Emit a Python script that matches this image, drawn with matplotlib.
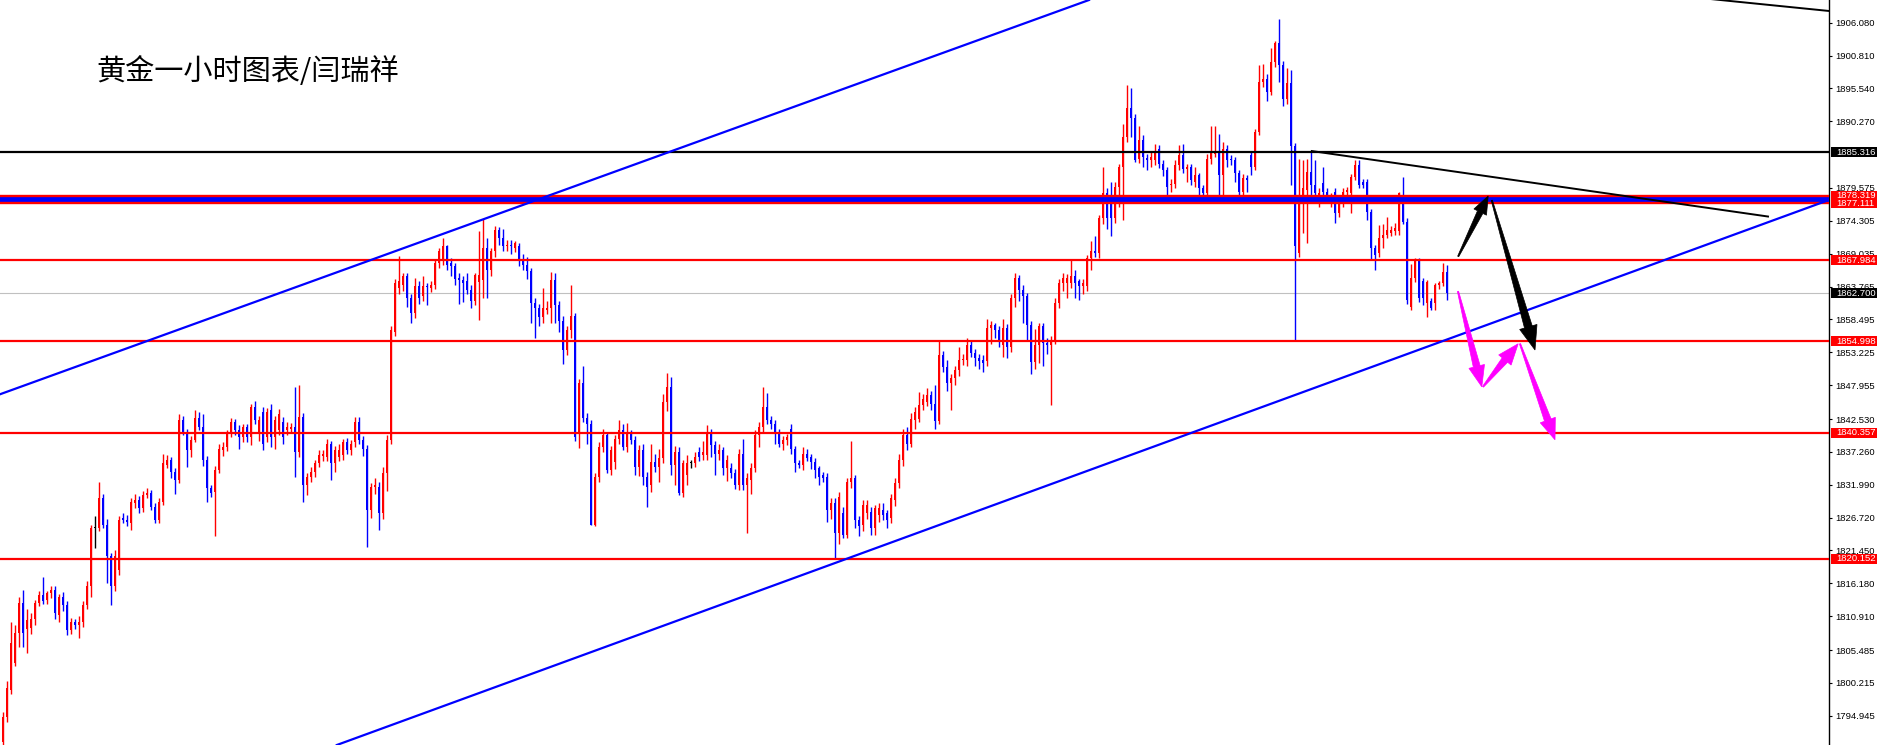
import matplotlib
matplotlib.use('Agg')
import matplotlib.pyplot as plt
from matplotlib.patches import Polygon, Rectangle
from matplotlib.transforms import IdentityTransform
import numpy as np

plt.rcParams['font.family'] = ['Noto Sans CJK SC', 'DejaVu Sans']

TITLE = "黄金一小时图表/闫瑞祥"

opens = [
    1790.8, 1794.8, 1799.1, 1803.4, 1808.2, 1813.0, 1808.8, 1809.0, 1810.5, 1813.0,
    1814.3, 1813.5, 1814.6, 1815.1, 1811.1, 1814.0, 1812.7, 1808.7, 1810.0, 1809.5,
    1810.0, 1812.7, 1815.7, 1825.0, 1825.0, 1829.8, 1825.5, 1820.5, 1815.7, 1818.3,
    1826.6, 1826.4, 1825.8, 1829.0, 1829.6, 1828.2, 1830.4, 1830.6, 1828.5, 1826.3,
    1829.3, 1835.2, 1836.0, 1834.1, 1832.8, 1842.4, 1840.5, 1837.6, 1839.2, 1842.7,
    1841.3, 1836.0, 1831.4, 1830.9, 1834.4, 1837.6, 1838.1, 1840.2, 1842.1, 1840.8,
    1839.7, 1841.3, 1839.7, 1844.5, 1840.2, 1843.7, 1839.7, 1844.0, 1839.7, 1840.8,
    1842.1, 1840.8, 1840.9, 1841.3, 1837.3, 1842.9, 1832.0, 1833.3, 1834.1, 1835.4,
    1836.6, 1836.5, 1838.6, 1835.4, 1836.5, 1836.8, 1838.9, 1837.6, 1838.9, 1842.1,
    1839.2, 1837.8, 1828.0, 1831.7, 1831.7, 1827.4, 1833.8, 1839.2, 1856.5, 1863.5,
    1864.0, 1865.5, 1861.9, 1859.5, 1863.8, 1862.2, 1863.9, 1863.5, 1864.0, 1867.5,
    1867.8, 1870.2, 1867.5, 1867.0, 1865.2, 1864.9, 1864.6, 1863.2, 1861.4, 1864.5,
    1864.8, 1869.9, 1866.4, 1869.4, 1872.8, 1871.5, 1870.2, 1870.5, 1869.9, 1870.2,
    1867.8, 1867.2, 1866.2, 1861.1, 1860.3, 1858.9, 1860.0, 1860.3, 1864.8, 1860.8,
    1858.2, 1853.6, 1856.8, 1859.0, 1840.2, 1848.3, 1842.7, 1841.8, 1825.6, 1833.3,
    1838.1, 1840.0, 1834.4, 1835.7, 1839.4, 1840.8, 1838.1, 1840.2, 1839.2, 1834.9,
    1837.6, 1833.3, 1831.9, 1835.7, 1834.9, 1836.2, 1845.3, 1847.7, 1835.1, 1837.3,
    1830.6, 1833.6, 1835.4, 1835.4, 1837.3, 1836.8, 1836.8, 1840.2, 1838.4, 1837.0,
    1837.6, 1834.6, 1834.6, 1833.8, 1831.9, 1837.0, 1831.9, 1832.8, 1834.6, 1840.0,
    1841.3, 1844.5, 1842.4, 1841.8, 1840.5, 1838.6, 1839.2, 1841.0, 1837.8, 1835.4,
    1835.1, 1837.0, 1836.5, 1835.7, 1834.6, 1833.6, 1833.3, 1828.0, 1829.0, 1824.2,
    1827.4, 1823.9, 1832.5, 1833.0, 1826.4, 1825.6, 1827.4, 1827.7, 1825.0, 1827.2,
    1828.0, 1827.4, 1826.6, 1829.5, 1832.2, 1836.0, 1840.0, 1838.5, 1842.4, 1842.6,
    1844.8, 1845.3, 1846.4, 1845.0, 1842.2, 1852.8, 1850.9, 1848.3, 1849.1, 1850.4,
    1852.0, 1852.0, 1854.4, 1853.1, 1852.3, 1852.0, 1851.8, 1857.1, 1857.6, 1856.8,
    1854.4, 1857.1, 1854.1, 1861.9, 1865.1, 1863.2, 1862.2, 1857.6, 1851.7, 1854.4,
    1857.4, 1854.7, 1854.4, 1855.2, 1861.1, 1864.3, 1864.3, 1864.4, 1865.5, 1864.6,
    1863.8, 1863.8, 1868.3, 1869.4, 1869.1, 1874.7, 1878.7, 1878.4, 1874.7, 1879.8,
    1883.0, 1887.8, 1892.4, 1890.8, 1884.3, 1887.3, 1884.4, 1884.1, 1884.1, 1885.9,
    1883.5, 1882.5, 1880.0, 1880.2, 1883.3, 1884.9, 1882.7, 1882.9, 1880.6, 1881.6,
    1879.5, 1878.7, 1884.3, 1885.1, 1885.4, 1881.7, 1885.9, 1884.2, 1884.1, 1881.9,
    1879.0, 1881.1, 1884.9, 1883.0, 1888.6, 1896.6, 1897.0, 1895.0, 1899.8, 1902.8,
    1899.3, 1893.9, 1896.4, 1886.3, 1869.1, 1877.7, 1879.3, 1882.2, 1880.1, 1877.1,
    1880.3, 1879.0, 1877.1, 1879.0, 1875.5, 1877.1, 1879.0, 1878.7, 1881.4, 1883.3,
    1880.6, 1880.6, 1875.8, 1869.9, 1869.1, 1871.5, 1872.0, 1872.3, 1872.6, 1872.6,
    1877.1, 1874.2, 1860.5, 1865.1, 1867.8, 1864.6, 1861.1, 1861.4, 1861.1, 1864.0,
    1864.3, 1866.1,
]

highs = [
    1795.6, 1800.5, 1810.0, 1809.5, 1814.0, 1815.1, 1812.0, 1811.5, 1813.5, 1815.0,
    1817.2, 1815.0, 1815.7, 1815.8, 1814.5, 1814.8, 1813.3, 1810.6, 1810.4, 1811.0,
    1813.4, 1816.5, 1825.6, 1827.0, 1832.5, 1830.5, 1826.5, 1821.0, 1821.5, 1827.0,
    1827.5, 1827.2, 1829.8, 1830.5, 1830.2, 1831.0, 1831.5, 1831.2, 1829.0, 1829.8,
    1837.0, 1836.8, 1836.5, 1834.6, 1843.4, 1843.0, 1841.0, 1839.8, 1844.0, 1843.6,
    1843.4, 1836.6, 1832.0, 1835.0, 1838.5, 1838.9, 1840.8, 1842.7, 1842.6, 1841.5,
    1841.8, 1841.8, 1845.0, 1845.5, 1843.0, 1844.5, 1844.3, 1845.0, 1843.0, 1844.2,
    1842.8, 1842.0, 1841.9, 1847.7, 1848.0, 1843.5, 1833.8, 1834.8, 1836.0, 1837.5,
    1837.6, 1839.4, 1839.0, 1838.2, 1838.5, 1839.4, 1839.5, 1839.2, 1842.8, 1842.9,
    1839.8, 1838.4, 1832.2, 1833.0, 1832.5, 1834.8, 1840.0, 1857.5, 1865.0, 1868.6,
    1866.0, 1866.0, 1862.5, 1865.2, 1864.6, 1865.5, 1864.3, 1864.6, 1868.0, 1870.0,
    1871.6, 1870.5, 1868.3, 1867.5, 1866.0, 1865.5, 1866.0, 1864.0, 1866.0, 1872.6,
    1874.6, 1871.5, 1870.0, 1873.5, 1873.3, 1873.0, 1871.2, 1871.3, 1871.0, 1870.8,
    1869.0, 1868.5, 1866.8, 1862.0, 1861.0, 1863.5, 1861.5, 1866.1, 1866.0, 1861.5,
    1859.0, 1857.5, 1864.0, 1859.5, 1849.0, 1851.0, 1843.5, 1842.3, 1833.8, 1838.8,
    1841.0, 1840.5, 1838.2, 1840.0, 1842.4, 1841.8, 1841.9, 1840.8, 1839.8, 1838.3,
    1838.5, 1834.0, 1838.6, 1837.0, 1837.8, 1846.5, 1849.9, 1849.2, 1838.2, 1838.0,
    1836.0, 1836.8, 1836.0, 1837.2, 1838.0, 1839.0, 1841.5, 1841.0, 1839.0, 1838.5,
    1838.0, 1836.8, 1835.5, 1834.5, 1837.8, 1839.4, 1833.8, 1835.4, 1840.8, 1842.0,
    1847.7, 1846.7, 1843.0, 1842.3, 1841.0, 1839.8, 1840.2, 1841.8, 1838.2, 1836.0,
    1838.0, 1837.8, 1837.0, 1836.2, 1835.0, 1834.0, 1833.8, 1829.8, 1829.8, 1830.8,
    1828.5, 1833.0, 1839.0, 1833.6, 1827.0, 1829.5, 1829.6, 1828.5, 1828.8, 1829.0,
    1829.0, 1828.0, 1830.5, 1833.0, 1837.0, 1841.0, 1841.2, 1843.5, 1844.5, 1846.9,
    1846.5, 1847.5, 1847.0, 1848.0, 1855.0, 1853.5, 1852.0, 1849.8, 1851.0, 1854.0,
    1853.0, 1855.5, 1855.0, 1853.8, 1853.0, 1852.8, 1858.5, 1858.3, 1858.0, 1857.5,
    1858.5, 1857.8, 1862.5, 1866.0, 1865.6, 1864.0, 1862.8, 1858.2, 1857.0, 1858.0,
    1858.0, 1855.5, 1855.8, 1862.0, 1865.0, 1866.0, 1865.8, 1868.0, 1866.5, 1865.0,
    1865.0, 1868.8, 1871.0, 1871.8, 1875.2, 1883.0, 1879.5, 1880.5, 1880.5, 1883.5,
    1889.9, 1896.1, 1895.6, 1891.5, 1889.5, 1888.0, 1885.0, 1885.5, 1886.6, 1886.4,
    1884.0, 1883.0, 1881.0, 1884.0, 1886.5, 1886.6, 1883.5, 1883.4, 1883.0, 1882.0,
    1880.0, 1885.0, 1889.5, 1889.5, 1888.3, 1887.0, 1886.4, 1884.8, 1884.6, 1882.4,
    1881.8, 1881.6, 1885.5, 1889.0, 1899.3, 1899.5, 1897.8, 1902.0, 1903.2, 1906.7,
    1900.0, 1898.8, 1898.5, 1886.8, 1884.3, 1884.0, 1884.3, 1885.4, 1884.1, 1879.5,
    1883.0, 1879.5, 1878.8, 1879.6, 1877.6, 1879.5, 1879.8, 1881.8, 1884.1, 1884.1,
    1881.0, 1881.0, 1876.2, 1870.5, 1873.6, 1873.8, 1875.0, 1873.5, 1874.0, 1879.0,
    1881.4, 1874.8, 1867.4, 1868.3, 1868.3, 1865.2, 1864.9, 1861.9, 1864.4, 1864.7,
    1867.5, 1867.2,
]

lows = [
    1790.0, 1794.0, 1798.5, 1803.0, 1806.0, 1806.0, 1805.0, 1808.0, 1809.5, 1812.5,
    1812.8, 1812.8, 1813.9, 1810.5, 1810.0, 1811.8, 1807.9, 1808.0, 1808.9, 1807.4,
    1809.2, 1812.0, 1814.0, 1821.8, 1824.5, 1825.0, 1816.2, 1812.7, 1815.0, 1817.5,
    1825.8, 1825.3, 1824.8, 1828.2, 1827.5, 1827.6, 1829.8, 1828.0, 1825.8, 1825.8,
    1828.8, 1834.6, 1833.0, 1830.5, 1832.2, 1840.0, 1834.9, 1836.5, 1838.8, 1840.8,
    1835.0, 1829.3, 1830.0, 1823.7, 1833.9, 1836.6, 1837.4, 1839.6, 1840.0, 1837.8,
    1838.8, 1838.9, 1838.3, 1841.8, 1839.0, 1837.5, 1838.8, 1838.0, 1837.8, 1840.0,
    1838.5, 1840.0, 1840.4, 1833.3, 1836.5, 1829.3, 1830.4, 1832.5, 1833.2, 1834.8,
    1835.8, 1835.8, 1832.7, 1834.0, 1835.8, 1836.0, 1837.0, 1836.8, 1838.0, 1838.5,
    1836.6, 1822.0, 1826.6, 1830.5, 1824.7, 1826.5, 1831.0, 1838.5, 1855.8, 1862.5,
    1863.0, 1860.5, 1857.9, 1858.8, 1861.0, 1861.5, 1860.8, 1862.9, 1863.4, 1866.8,
    1867.2, 1866.5, 1865.5, 1864.0, 1861.0, 1861.3, 1862.5, 1860.3, 1860.8, 1858.4,
    1862.0, 1861.9, 1865.5, 1868.5, 1870.5, 1869.5, 1869.5, 1869.0, 1869.3, 1867.0,
    1866.5, 1865.0, 1858.0, 1855.5, 1857.5, 1858.0, 1859.3, 1858.0, 1858.0, 1856.5,
    1851.4, 1852.8, 1855.5, 1839.0, 1837.9, 1842.0, 1838.6, 1825.5, 1825.4, 1832.5,
    1837.2, 1833.8, 1833.5, 1834.5, 1838.5, 1837.5, 1837.3, 1838.5, 1833.5, 1833.4,
    1832.0, 1828.5, 1830.8, 1834.0, 1832.5, 1835.5, 1843.8, 1833.5, 1832.0, 1830.3,
    1830.0, 1832.0, 1834.6, 1834.8, 1835.8, 1836.0, 1836.0, 1836.5, 1833.6, 1836.0,
    1833.5, 1832.6, 1833.0, 1831.3, 1831.2, 1831.2, 1824.2, 1830.5, 1834.0, 1838.0,
    1840.5, 1841.8, 1841.0, 1838.5, 1838.0, 1837.5, 1838.3, 1837.0, 1834.0, 1834.6,
    1834.3, 1835.8, 1834.5, 1833.0, 1832.0, 1832.5, 1826.0, 1826.5, 1820.2, 1822.5,
    1823.4, 1823.4, 1831.5, 1825.0, 1823.7, 1824.6, 1826.5, 1824.0, 1823.9, 1826.0,
    1826.4, 1825.0, 1825.8, 1828.6, 1831.5, 1835.0, 1837.5, 1838.0, 1841.0, 1842.0,
    1843.9, 1844.6, 1844.0, 1841.0, 1841.8, 1850.0, 1847.0, 1844.0, 1848.0, 1849.5,
    1851.2, 1851.0, 1852.5, 1851.0, 1850.5, 1850.0, 1851.0, 1854.5, 1855.5, 1854.0,
    1852.5, 1852.3, 1853.2, 1860.5, 1861.5, 1858.0, 1855.0, 1849.7, 1850.5, 1851.5,
    1851.0, 1853.0, 1844.8, 1854.5, 1860.3, 1863.0, 1862.0, 1863.5, 1862.0, 1861.6,
    1862.5, 1863.0, 1866.5, 1868.5, 1868.3, 1873.8, 1873.0, 1871.8, 1874.0, 1876.5,
    1874.4, 1887.0, 1887.8, 1883.8, 1883.6, 1883.0, 1882.5, 1883.0, 1883.2, 1882.8,
    1881.5, 1877.9, 1879.0, 1879.5, 1882.5, 1882.0, 1880.5, 1880.0, 1879.8, 1878.5,
    1878.0, 1877.8, 1883.5, 1884.5, 1878.2, 1878.2, 1883.0, 1883.3, 1880.5, 1878.5,
    1878.4, 1879.0, 1881.7, 1882.5, 1888.0, 1895.8, 1893.5, 1894.5, 1899.0, 1896.5,
    1892.8, 1893.0, 1880.0, 1855.2, 1868.5, 1872.3, 1870.7, 1877.1, 1878.0, 1876.5,
    1878.3, 1877.5, 1876.5, 1874.0, 1875.0, 1876.5, 1878.5, 1875.5, 1880.8, 1879.5,
    1879.6, 1874.4, 1868.2, 1866.4, 1868.5, 1870.0, 1871.5, 1871.8, 1872.0, 1872.0,
    1873.8, 1861.0, 1860.0, 1864.5, 1861.3, 1860.8, 1858.9, 1860.0, 1860.0, 1863.4,
    1863.8, 1861.6,
]

closes = [
    1794.8, 1799.4, 1806.6, 1808.2, 1813.0, 1808.2, 1810.3, 1810.5, 1813.0, 1814.3,
    1813.3, 1814.6, 1815.1, 1811.4, 1814.0, 1812.7, 1808.7, 1810.0, 1809.5, 1810.0,
    1812.7, 1815.7, 1825.0, 1825.0, 1829.8, 1825.5, 1820.5, 1815.7, 1820.5, 1826.3,
    1826.4, 1826.0, 1829.3, 1829.6, 1828.2, 1830.4, 1830.6, 1828.5, 1826.3, 1829.3,
    1835.4, 1836.0, 1834.1, 1832.8, 1842.4, 1840.5, 1837.6, 1839.2, 1842.7, 1841.3,
    1836.0, 1831.4, 1830.6, 1834.4, 1837.8, 1838.1, 1840.2, 1842.1, 1840.8, 1839.7,
    1841.3, 1839.7, 1844.5, 1842.4, 1842.4, 1838.6, 1843.7, 1839.7, 1842.4, 1843.4,
    1839.7, 1841.3, 1841.2, 1837.3, 1842.9, 1832.0, 1833.3, 1834.1, 1835.4, 1836.8,
    1836.9, 1838.6, 1835.4, 1837.6, 1837.6, 1838.9, 1837.6, 1838.6, 1842.1, 1839.2,
    1837.8, 1828.0, 1831.7, 1831.9, 1827.4, 1833.8, 1839.2, 1856.8, 1864.3, 1864.6,
    1865.5, 1861.9, 1859.5, 1863.8, 1861.9, 1863.8, 1863.7, 1864.0, 1867.5, 1869.4,
    1870.2, 1867.2, 1867.0, 1865.0, 1864.9, 1864.3, 1863.2, 1861.4, 1865.6, 1865.6,
    1869.9, 1866.4, 1869.4, 1872.8, 1871.5, 1870.2, 1870.5, 1870.2, 1870.7, 1867.8,
    1867.2, 1866.2, 1861.1, 1860.3, 1858.9, 1860.3, 1860.3, 1864.8, 1860.8, 1858.2,
    1853.6, 1856.8, 1859.0, 1839.7, 1848.3, 1842.7, 1841.8, 1825.6, 1833.3, 1838.1,
    1840.0, 1834.4, 1837.6, 1839.4, 1840.8, 1838.1, 1840.2, 1839.2, 1834.9, 1837.6,
    1833.3, 1831.7, 1835.7, 1834.9, 1836.2, 1845.3, 1847.7, 1835.1, 1837.3, 1830.6,
    1835.4, 1835.4, 1835.4, 1836.5, 1836.5, 1837.3, 1840.2, 1838.4, 1837.0, 1837.6,
    1834.6, 1835.9, 1833.8, 1831.9, 1837.0, 1831.9, 1833.0, 1834.6, 1840.0, 1841.3,
    1844.5, 1842.4, 1841.8, 1840.5, 1838.6, 1839.2, 1839.7, 1837.8, 1835.4, 1835.1,
    1837.0, 1836.2, 1835.7, 1834.4, 1833.3, 1833.0, 1828.0, 1829.0, 1824.2, 1830.1,
    1823.9, 1832.5, 1833.0, 1826.4, 1825.3, 1828.8, 1828.8, 1825.0, 1828.2, 1828.2,
    1827.2, 1826.3, 1829.8, 1832.2, 1836.0, 1840.0, 1838.5, 1842.6, 1843.7, 1844.8,
    1845.8, 1846.4, 1845.0, 1842.2, 1852.8, 1850.9, 1848.3, 1849.1, 1850.4, 1852.0,
    1852.2, 1854.4, 1853.1, 1852.3, 1851.8, 1851.5, 1857.1, 1857.6, 1856.8, 1855.2,
    1857.1, 1854.1, 1861.9, 1865.1, 1863.2, 1862.2, 1857.6, 1851.7, 1854.4, 1857.4,
    1854.7, 1854.4, 1855.2, 1861.1, 1864.3, 1865.1, 1865.1, 1865.5, 1864.3, 1863.8,
    1864.3, 1868.3, 1869.4, 1869.1, 1874.7, 1878.7, 1874.7, 1874.7, 1879.8, 1883.0,
    1887.8, 1892.4, 1890.8, 1884.1, 1887.3, 1884.6, 1884.1, 1884.5, 1885.4, 1883.5,
    1882.5, 1879.8, 1880.2, 1883.3, 1884.9, 1882.7, 1882.9, 1880.8, 1881.6, 1879.5,
    1878.7, 1884.3, 1885.4, 1885.4, 1881.7, 1885.9, 1884.1, 1884.0, 1881.9, 1879.0,
    1881.1, 1880.9, 1883.0, 1888.6, 1896.6, 1897.0, 1895.0, 1899.8, 1902.8, 1899.3,
    1893.9, 1896.4, 1886.3, 1870.2, 1878.2, 1879.5, 1882.2, 1880.1, 1878.7, 1878.7,
    1879.0, 1878.5, 1878.2, 1875.5, 1877.1, 1879.0, 1879.3, 1881.4, 1883.3, 1880.1,
    1880.1, 1875.8, 1869.9, 1868.8, 1871.5, 1872.0, 1872.8, 1872.8, 1873.1, 1878.7,
    1874.2, 1861.6, 1865.1, 1867.8, 1861.9, 1861.9, 1864.5, 1860.3, 1864.0, 1864.3,
    1866.1, 1862.7,
]

tick_values = [1906.080, 1900.810, 1895.540, 1890.270, 1879.575, 1874.305, 1869.035,
               1863.765, 1858.495, 1853.225, 1847.955, 1842.530, 1837.260, 1831.990,
               1826.720, 1821.450, 1816.180, 1810.910, 1805.485, 1800.215, 1794.945]

red_levels = [1867.984, 1854.998, 1840.357, 1820.152]
band_levels = [1877.111, 1878.319]
black_level = 1885.316
bid_level = 1862.700

price_tags = [(1885.316, '#000000'), (1878.319, '#ff0000'), (1877.111, '#ff0000'),
              (1867.984, '#ff0000'), (1862.700, '#000000'), (1854.998, '#ff0000'),
              (1840.357, '#ff0000'), (1820.152, '#ff0000')]

# trend-line anchors (bar index, price)
channel_lower = [(83.5, 1790.27), (349.25, 1852.53)]
channel_upper = [(-0.75, 1846.5), (271.5, 1909.72)]
resistance_line = [(327.2, 1885.5), (441.25, 1875.0)]
top_right_line = [(425.0, 1910.0), (456.5, 1907.96)]

black_arrows = [((363.8, 1868.6), (371.3, 1878.3)),
                ((372.2, 1877.6), (383.0, 1853.6))]
magenta_arrows = [((363.75, 1863.0), (369.7, 1847.7)),
                  ((370.0, 1847.7), (378.8, 1854.6)),
                  ((379.25, 1854.6), (388.0, 1839.2))]

n = len(closes)
if not (len(opens) == len(highs) == len(lows) == n):
    raise SystemExit(f"length mismatch {len(opens)} {len(highs)} {len(lows)} {n}")

W, H = 1877, 745
AX_W = 1829
fig = plt.figure(figsize=(W / 100, H / 100), dpi=100)
fig.patch.set_facecolor('white')
ax = fig.add_axes([0, 0, AX_W / W, 1])
ax.set_xlim(-0.75, -0.75 + AX_W / 4)
ax.set_ylim(1790.26, 1909.72)

o = np.array(opens); c = np.array(closes); h = np.array(highs); l = np.array(lows)
idx = np.arange(n)
cols = ['#ff0000' if cc > oo else ('#0000ff' if cc < oo else '#000000') for oo, cc in zip(o, c)]
ax.vlines(idx, l, h, colors=cols, lw=1.0, zorder=3)
body_bot = np.minimum(o, c)
body_h = np.maximum(np.abs(c - o), 0.17)
ax.bar(idx, body_h, bottom=body_bot, width=0.66, color=cols, linewidth=0, zorder=3)

# horizontal levels
ax.axhline(bid_level, color='#c0c0c0', lw=0.8, zorder=2)
for lv in red_levels:
    ax.axhline(lv, color='#ff0000', lw=1.6, zorder=4)
ax.axhspan(band_levels[0], band_levels[1], color='#0000ff', lw=0, zorder=4)
for lv in band_levels:
    ax.axhline(lv, color='#ff0000', lw=1.7, zorder=4)
ax.axhline(black_level, color='#000000', lw=1.6, zorder=4)

# trend lines
ax.axline(channel_lower[0], channel_lower[1], color='#0000ff', lw=1.6, zorder=4)
ax.axline(channel_upper[0], channel_upper[1], color='#0000ff', lw=1.6, zorder=4)
ax.plot(*zip(*resistance_line), color='#000000', lw=1.4, zorder=4)
ax.plot(*zip(*top_right_line), color='#000000', lw=1.4, zorder=4)


def arrow(p0, p1, color, head_len, head_w, shaft_w):
    a = ax.transData.transform(p0)
    b = ax.transData.transform(p1)
    d = b - a
    L = np.hypot(*d)
    u = d / L
    nrm = np.array([-u[1], u[0]])
    base = b - u * head_len
    pts = [a + nrm * 0.6, base + nrm * shaft_w, base + nrm * head_w, b,
           base - nrm * head_w, base - nrm * shaft_w, a - nrm * 0.6]
    ax.add_patch(Polygon(pts, closed=True, transform=IdentityTransform(),
                         facecolor=color, edgecolor=color, lw=0.5, zorder=6))


arrow(*black_arrows[0], '#000000', 18, 7, 3)
arrow(*black_arrows[1], '#000000', 24, 9, 4)
for p0, p1 in magenta_arrows:
    arrow(p0, p1, '#ff00ff', 21, 8, 3.5)

# axes styling
for s in ['left', 'top', 'bottom']:
    ax.spines[s].set_visible(False)
ax.spines['right'].set_color('black')
ax.spines['right'].set_linewidth(1.0)
ax.set_xticks([])
ax.yaxis.tick_right()
ax.set_yticks(tick_values)
ax.set_yticklabels([f"{v:.3f}" for v in tick_values], fontsize=6.8, family='Liberation Sans')
ax.tick_params(axis='y', direction='out', length=2.2, width=0.8, pad=2.2, colors='black')

ytr = ax.get_yaxis_transform()
for val, bg in price_tags:
    ax.add_patch(Rectangle((1831 / AX_W, val - 0.8), (W - 1831) / AX_W, 1.6,
                           transform=ytr, facecolor=bg, edgecolor='none',
                           clip_on=False, zorder=10))
    ax.text(1836 / AX_W, val, f"{val:.3f}", transform=ytr, color='white',
            fontsize=6.8, family='Liberation Sans', ha='left', va='center',
            clip_on=False, zorder=11)

fig.text(96 / W, 1 - 72 / H, TITLE, fontsize=21, ha='left', va='center',
         family=['Noto Sans CJK SC', 'DejaVu Sans'], color='black')

fig.savefig('out.png', dpi=100, facecolor='white')
